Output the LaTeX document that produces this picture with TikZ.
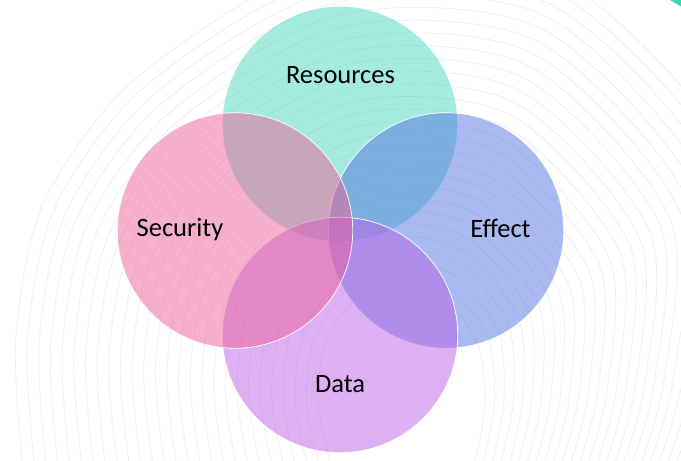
\documentclass[tikz,border=0pt]{standalone}
\usepackage{fontspec}
\setmainfont{Carlito}
\usetikzlibrary{calc}

\definecolor{rescol}{RGB}{77,215,191}
\definecolor{seccol}{RGB}{235,97,153}
\definecolor{effcol}{RGB}{83,117,225}
\definecolor{datcol}{RGB}{187,97,231}
\definecolor{cornercol}{RGB}{64,208,178}

\begin{document}
\begin{tikzpicture}
   [x=1pt,y=-1pt,
    venn/.style={circle, draw=white, line width=0.8pt, draw opacity=0.9, fill opacity=0.5, minimum size=235.5pt, inner sep=0pt},
    lbl/.style={anchor=base, font=\fontsize{26.5}{30}\selectfont, text=black},
    bgline/.style={black!8, line width=0.6pt}]
   \useasboundingbox (0,0) rectangle (681,461);
   % contour lines behind
   \coordinate (i1) at (330,461); \coordinate (o1) at (22,461);
   \coordinate (i2) at (318,405); \coordinate (o2) at (16,335);
   \coordinate (i3) at (325,345); \coordinate (o3) at (45,200);
   \coordinate (i4) at (355,300); \coordinate (o4) at (140,75);
   \coordinate (i5) at (400,285); \coordinate (o5) at (330,-35);
   \coordinate (i6) at (445,300); \coordinate (o6) at (560,-20);
   \coordinate (i7) at (478,345); \coordinate (o7) at (740,170);
   \coordinate (i8) at (485,405); \coordinate (o8) at (730,370);
   \coordinate (i9) at (475,461); \coordinate (o9) at (700,470);
   \begin{scope}
      \clip (0,0) rectangle (681,461);
      \foreach \k in {0,...,26} {
         \pgfmathsetmacro\t{\k/26}
         \draw[bgline] plot[smooth] coordinates {($(i1)!\t!(o1)$) ($(i2)!\t!(o2)$) ($(i3)!\t!(o3)$)
            ($(i4)!\t!(o4)$) ($(i5)!\t!(o5)$) ($(i6)!\t!(o6)$) ($(i7)!\t!(o7)$) ($(i8)!\t!(o8)$) ($(i9)!\t!(o9)$)};
      }
      \fill[cornercol] (670,0) -- (681,0) -- (681,6.5) -- cycle;
   \end{scope}
   % the four sets
   \node[venn, fill=rescol] (res) at (340,124) {};
   \node[venn, fill=effcol] (eff) at (446,230.5) {};
   \node[venn, fill=datcol] (dat) at (340,335) {};
   \node[venn, fill=seccol] (sec) at (235,230.5) {};
   \node[lbl] (resl) at (340.5,83.3) {Resources};
   \node[lbl] (secl) at (180,236.5) {Security};
   \node[lbl] (effl) at (500.5,237) {Effect};
   \node[lbl] (datl) at (340,392.5) {Data};
\end{tikzpicture}
\end{document}
